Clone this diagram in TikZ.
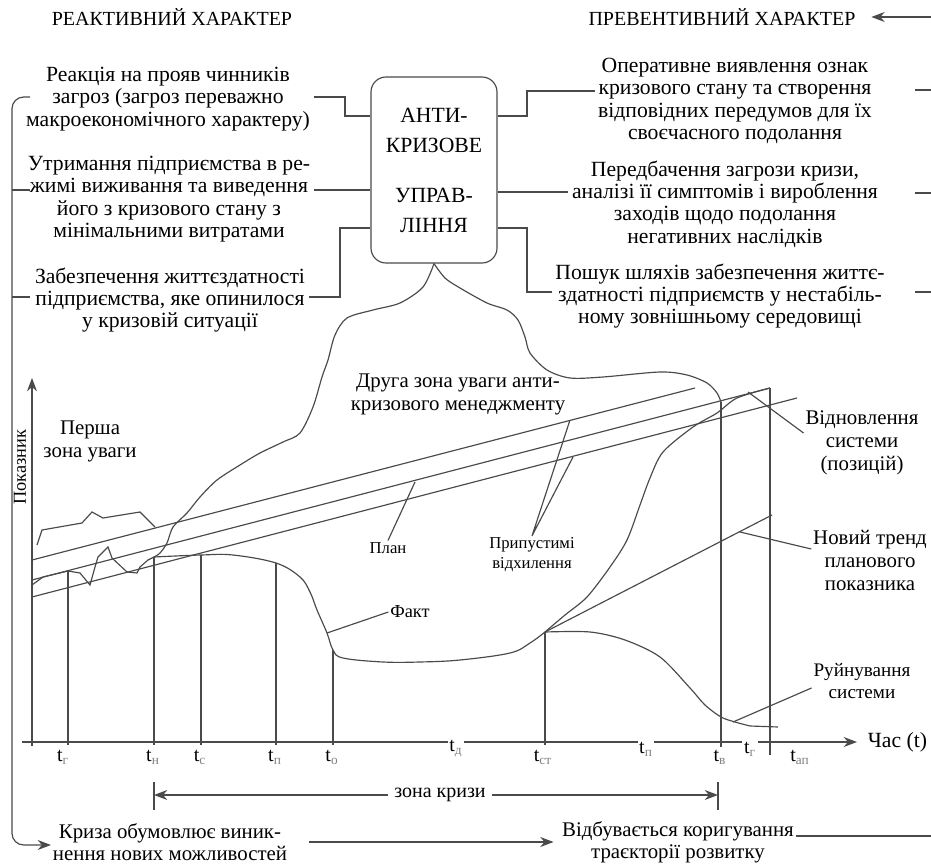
\documentclass[tikz,border=0pt]{standalone}
\usepackage{fontspec}
\setmainfont{Liberation Serif}
\usepackage{xcolor}
\usetikzlibrary{arrows.meta,positioning}
\definecolor{ink}{HTML}{4A4A4A}
\newcommand\fsz[2]{\fontsize{#1}{#2}\selectfont}

\begin{document}
\begin{tikzpicture}[x=0.6pt,y=-0.6pt,font=\fsz{12}{13.4},
  ln/.style={draw=ink,line width=0.7pt},
  arr/.style={ln,-{Stealth[length=8pt,width=6pt]}},
  hdr/.style={font=\fsz{12}{13}},
  side/.style={align=center,font=\fsz{13}{13.4},inner sep=2pt},
  lbl/.style={align=center,font=\fsz{12.5}{13.8},inner sep=1pt},
  sm/.style={align=center,font=\fsz{10}{12},inner sep=1pt},
  tk/.style={font=\fsz{12}{13},inner sep=1pt,fill=white}]
\useasboundingbox (0,0) rectangle (931,867);
\node[hdr] (reakt) at (172,17) {РЕАКТИВНИЙ ХАРАКТЕР};
\node[hdr] (prevh) at (722,17) {ПРЕВЕНТИВНИЙ ХАРАКТЕР};
\node[side] (react1) at (168,99) {Реакція на прояв чинників\\загроз (загроз переважно\\макроекономічного характеру)};
\node[side] (react2) at (169,199) {Утримання підприємства в ре-\\жимі виживання та виведення\\його з кризового стану з\\мінімальними витратами};
\node[side] (react3) at (170,300) {Забезпечення життєздатності\\підприємства, яке опинилося\\у кризовій ситуації};
\node[side] (prev1) at (735,101) {Оперативне виявлення ознак\\кризового стану та створення\\відповідних передумов для їх\\своєчасного подолання};
\node[side] (prev2) at (725,204) {Передбачення загрози кризи,\\аналізі її симптомів і вироблення\\заходів щодо подолання\\негативних наслідків};
\node[side] (prev3) at (720,296) {Пошук шляхів забезпечення життє-\\здатності підприємств у нестабіль-\\ному зовнішньому середовищі};
\node[draw=ink,line width=0.7pt,rounded corners=9pt,minimum width=75.6pt,minimum height=111.6pt,align=center,font=\fsz{13}{18}] (anti) at (434,170) {АНТИ-\\КРИЗОВЕ\\[12pt]УПРАВ-\\ЛІННЯ};
\draw[ln] (react1.east |- 0,97) -| (345,116) -- (anti.west |- 0,116);
\draw[ln] (react2.east |- 0,190) -- (anti.west |- 0,190);
\draw[ln] (react3.east |- 0,297) -| (340,228) -- (anti.west |- 0,228);
\draw[ln] (anti.east |- 0,116) -| (527,91) -- (prev1.west |- 0,91);
\draw[ln] (anti.east |- 0,192) -- (prev2.west |- 0,192);
\draw[ln] (anti.east |- 0,228) -| (527,292) -- (prev3.west |- 0,292);
\node[side,inner sep=1pt,font=\fsz{12.5}{13}] (crisis) at (170,842) {Криза обумовлює виник-\\нення нових можливостей};
\node[side,inner sep=1pt,font=\fsz{12.5}{13}] (corr) at (678,842) {Відбувається коригування\\траєкторії розвитку};
\draw[arr,shorten <=12pt,shorten >=4pt] (crisis) -- (corr);
\coordinate (lbtop) at (30,97); \coordinate (rbx) at (936,17);
\draw[arr,rounded corners=7pt] (lbtop) -| (12,845) -- (crisis.west |- 0,845);
\draw[ln] (12,190) -- (30,190); \draw[ln] (12,297) -- (30,297);
\draw[arr,shorten >=6pt] (corr.east |- 0,836) -| (rbx) -- (prevh.east);
\draw[ln] (915,90) -- (936,90); \draw[ln] (915,193) -- (936,193); \draw[ln] (915,292) -- (936,292);
\draw[ln] plot[smooth] coordinates {(anti.south) (423,287) (400,303) (373,310) (347,318) (335,335) (328,360) (322,377) (313,407) (300,433) (283,442) (260,453) (240,465) (217,480) (200,497) (187,513) (173,527) (167,543) (160,553) (154,557)};
\draw[ln] plot[smooth] coordinates {(anti.south) (445,278) (460,288) (487,303) (507,310) (518,320) (525,337) (530,353) (547,370) (570,378) (603,377) (660,372) (687,375) (707,383) (717,393) (721,402)};
\draw[arr] (32,746) -- (32,378);
\coordinate (xe) at (857,742);
\draw[arr] (22,742) -- (xe);
\node[font=\fsz{13}{14},right=3pt of xe] (chas) {Час (t)};
\node[rotate=90,font=\fsz{11}{12}] (pokaz) at (20,467) {Показник};
\foreach \x/\y in {68/571,154/557,201/555,276/563,333/650,545/632} \draw[ln] (\x,745) -- (\x,\y);
\draw[ln] (721,747) -- (721,402); \draw[ln] (770,755) -- (770,388);
\draw[ln] (32,560) -- (695,388);
\draw[ln] (32,580) -- (770,388);
\draw[ln] (32,597) -- (797,398);
\draw[ln] plot coordinates {(32,585) (43,577) (68,571) (80,573) (90,585) (95,567) (98,557) (108,547) (112,558) (127,572) (137,573) (140,567) (148,560) (154,557)};
\draw[ln] plot[smooth,tension=0.6] coordinates {(154,557) (201,555) (233,555) (276,563) (300,577) (310,592) (317,610) (327,633) (333,650) (343,658) (383,662) (420,662) (460,660) (510,653) (530,643) (545,632)};
\draw[ln] plot[smooth] coordinates {(545,632) (590,632) (625,640) (660,657) (690,688) (705,705) (721,717) (735,722) (750,726)} -- (778,727);
\draw[ln] plot[smooth] coordinates {(545,632) (565,615) (587,597) (610,567) (627,540) (640,505) (650,478) (663,452) (693,427) (717,413) (737,398) (770,388)};
\draw[ln] (545,632) -- (772,515);
\draw[ln] plot coordinates {(37,545) (42,530) (82,523) (92,512) (103,518) (140,512) (155,527)};
\node[lbl] (first) at (90,441) {Перша\\зона уваги};
\node[lbl] (second) at (458,394) {Друга зона уваги анти-\\кризового менеджменту};
\node[sm] (plan) at (388,548) {План};
\node[sm] (dev) at (532,555) {Припустимі\\відхилення};
\node[sm,font=\fsz{11}{12}] (fact) at (410,612) {Факт};
\node[lbl] (recov) at (862,443) {Відновлення\\системи\\(позицій)};
\node[lbl] (trend) at (870,560) {Новий тренд\\планового\\показника};
\node[lbl,font=\fsz{11.5}{13.2}] (ruin) at (862,681) {Руйнування\\системи};
\coordinate (pplan) at (415,482); \coordinate (pdev1) at (570,420); \coordinate (pdev2) at (573,457);
\coordinate (pfact) at (327,633); \coordinate (precov) at (748,392); \coordinate (ptrend) at (740,532); \coordinate (pruin) at (733,722);
\draw[ln] (plan.north) -- (pplan);
\draw[ln] (pdev1) -- (dev.north) -- (pdev2);
\draw[ln] (pfact) -- (fact.west);
\draw[ln] (precov) -- (recov.west |- 0,433);
\draw[ln] (ptrend) -- (trend.west |- 0,549);
\draw[ln] (pruin) -- (ruin.west |- 0,688);
\foreach \x/\y/\s [count=\i] in {63/757/г,153/757/н,200/757/с,275/757/п,332/757/о,456/749/д,543/757/ст,646/749/п,720/757/в,750/749/г,800/757/ап}
  \node[tk] (t\i) at (\x,\y) {t\textsubscript{\color{gray}\s}};
\coordinate (zl) at (154,795); \coordinate (zr) at (718,795);
\draw[ln] (154,782) -- (154,810); \draw[ln] (718,782) -- (718,810);
\node[font=\fsz{12}{13}] (zone) at (440,795) {зона кризи};
\draw[arr] (zone.west) -- (zl); \draw[arr] (zone.east) -- (zr);
\end{tikzpicture}
\end{document}
